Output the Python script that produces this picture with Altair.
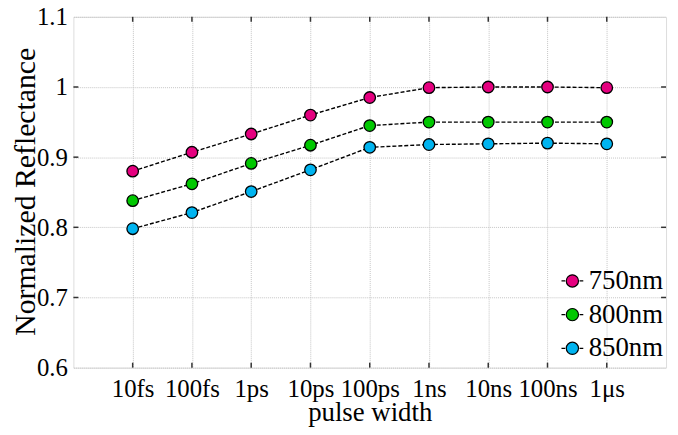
import altair as alt
import pandas as pd

categories = ["10fs", "100fs", "1ps", "10ps", "100ps", "1ns", "10ns", "100ns", "1μs"]
positions = [1, 2, 3, 4, 5, 6, 7, 8, 9]
series = ["750nm", "800nm", "850nm"]
r750 = [0.880, 0.907, 0.933, 0.960, 0.985, 0.999, 1.000, 1.000, 0.999]
r800 = [0.838, 0.862, 0.891, 0.917, 0.945, 0.950, 0.950, 0.950, 0.950]
r850 = [0.798, 0.821, 0.851, 0.882, 0.914, 0.918, 0.919, 0.920, 0.919]
colors = ["#E5007F", "#00C800", "#00B4F0"]
yticks = [0.6, 0.7, 0.8, 0.9, 1.0, 1.1]

rows = []
for name, vals in zip(series, [r750, r800, r850]):
    for p, c, v in zip(positions, categories, vals):
        rows.append({"pos": p, "cat": c, "series": name, "value": v})
df = pd.DataFrame(rows)
xt = pd.DataFrame({"pos": positions})
yt = pd.DataFrame({"v": yticks[1:-1]})

FONT = "Liberation Serif"
W, H = 598, 354

label_expr = "[" + ",".join("'%s'" % c for c in categories) + "][datum.value - 1]"

xscale = alt.Scale(domain=[0, 10], nice=False, zero=False)
yscale = alt.Scale(domain=[0.6, 1.1], nice=False, zero=False)

xaxis = alt.Axis(
    values=positions, labelExpr=label_expr, labelOverlap=False, labelFlush=False,
    labelBound=False, ticks=False, tickSize=0, domain=False, labelFont=FONT,
    labelFontSize=25, labelColor="black", labelBaseline="alphabetic", labelPadding=29,
    title="pulse width", titleFont=FONT, titleFontSize=27, titleFontWeight="normal",
    titleColor="black", titleBaseline="alphabetic", titleY=53, titleX=W / 2,
    grid=True, gridColor="#c4c4c4", gridDash=[1, 1], gridWidth=1,
)
yaxis = alt.Axis(
    values=yticks, labelExpr="datum.value == 1 ? '1' : format(datum.value, '.1f')",
    labelOverlap=False, labelFlush=False, labelBound=False, ticks=False, tickSize=0,
    domain=False, labelFont=FONT, labelFontSize=25, labelColor="black", labelPadding=6,
    title="Normalized Reflectance", titleFont=FONT, titleFontSize=30,
    titleFontWeight="normal", titleColor="black", titleBaseline="alphabetic",
    titleX=-39, titleY=176, titleAngle=-90,
    grid=True, gridColor="#c4c4c4", gridDash=[1, 1], gridWidth=1,
)

lines = alt.Chart(df).mark_line(color="black", strokeDash=[4, 2], strokeWidth=1.4).encode(
    x=alt.X("pos:Q", scale=xscale, axis=xaxis),
    y=alt.Y("value:Q", scale=yscale, axis=yaxis),
    detail="series:N",
)

legend_symbol = (
    "M-1,0 L-0.66,0 M0.66,0 L1,0 "
    "M-0.56,0 A0.56,0.56 0 1,0 0.56,0 A0.56,0.56 0 1,0 -0.56,0 Z"
)

points = alt.Chart(df).mark_point(filled=True, size=135, stroke="black", strokeWidth=1.3, opacity=1, shape="circle").encode(
    x=alt.X("pos:Q", scale=xscale),
    y=alt.Y("value:Q", scale=yscale),
    fill=alt.Fill("series:N", scale=alt.Scale(domain=series, range=colors),
                  legend=alt.Legend(
                      title=None, orient="none", legendX=490, legendY=253,
                      symbolType=legend_symbol, symbolSize=484,
                      symbolStrokeColor="black", symbolStrokeWidth=1.2,
                      labelFont=FONT, labelFontSize=27, labelColor="black",
                      labelOffset=3, rowPadding=6, labelLimit=200,
                  )),
)

tick_style = dict(color="#333333", strokeWidth=1.5)
xt_bottom = alt.Chart(xt).mark_rule(**tick_style).encode(
    x=alt.X("pos:Q", scale=xscale), y=alt.value(H), y2=alt.value(H - 5))
xt_top = alt.Chart(xt).mark_rule(**tick_style).encode(
    x=alt.X("pos:Q", scale=xscale), y=alt.value(0), y2=alt.value(5))
yt_left = alt.Chart(yt).mark_rule(**tick_style).encode(
    y=alt.Y("v:Q", scale=yscale), x=alt.value(0), x2=alt.value(5))
yt_right = alt.Chart(yt).mark_rule(**tick_style).encode(
    y=alt.Y("v:Q", scale=yscale), x=alt.value(W), x2=alt.value(W - 5))

chart = alt.layer(lines, xt_bottom, xt_top, yt_left, yt_right, points).properties(
    width=W, height=H,
    autosize=alt.AutoSizeParams(type="none"),
    padding={"left": 66, "top": 7, "right": 4, "bottom": 60},
).configure_view(stroke="#333333", strokeWidth=1.5).configure(background="white")

chart.save("out.html", embed_options={"renderer": "svg", "actions": False})
